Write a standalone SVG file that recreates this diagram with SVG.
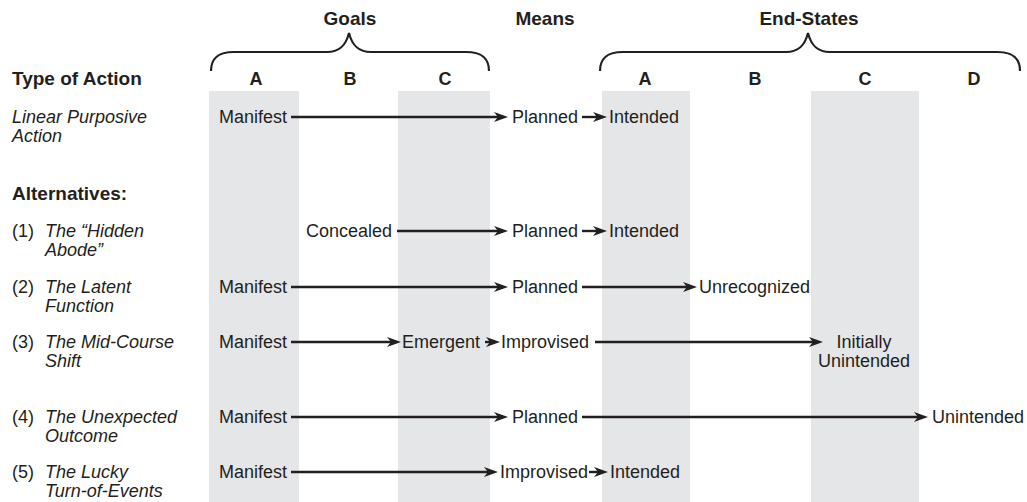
<svg xmlns="http://www.w3.org/2000/svg" width="1027" height="502" viewBox="0 0 1027 502">
<style>
  text { font-family: "Liberation Sans", Arial, sans-serif; fill: #231f20; }
  .hd { font-size: 19px; font-weight: bold; }
  .col { font-size: 18px; font-weight: bold; text-anchor: middle; }
  .lbl { font-size: 18px; }
  .it { font-size: 18px; font-style: italic; }
  .nd { font-size: 18px; }
  .band { fill: #e5e6e8; }
  .brace { fill: none; stroke: #231f20; stroke-width: 2.2; }
  .conn line { stroke: #231f20; stroke-width: 2.4; }
</style>
<defs>
  <marker id="ah" markerUnits="userSpaceOnUse" markerWidth="15" markerHeight="11" refX="8" refY="5" orient="auto">
    <path d="M0,0 L14,5 L0,10 L4,5 z" fill="#231f20"/>
  </marker>
</defs>
<rect width="1027" height="502" fill="#ffffff"/>

<g id="bands">
  <rect class="band" x="209" y="91" width="90" height="411"/>
  <rect class="band" x="398" y="91" width="92" height="411"/>
  <rect class="band" x="602" y="91" width="88" height="411"/>
  <rect class="band" x="811" y="91" width="108" height="411"/>
</g>

<g id="headers">
  <text class="hd" x="350" y="25" text-anchor="middle">Goals</text>
  <text class="hd" x="545" y="25" text-anchor="middle">Means</text>
  <text class="hd" x="809" y="25" text-anchor="middle">End-States</text>
  <path class="brace" d="M211,71 C211,60 216,52 234,52 L327,52 C340,52 346,45 349,33 C352,45 358,52 371,52 L466,52 C484,52 489,60 489,71"/>
  <path class="brace" d="M600,71 C600,60 605,52 623,52 L786,52 C799,52 805,45 808,33 C811,45 817,52 830,52 L997,52 C1015,52 1020,60 1020,71"/>
  <text class="hd" x="12" y="85">Type of Action</text>
  <text class="col" x="256" y="85">A</text>
  <text class="col" x="350" y="85">B</text>
  <text class="col" x="445" y="85">C</text>
  <text class="col" x="645" y="85">A</text>
  <text class="col" x="755" y="85">B</text>
  <text class="col" x="865" y="85">C</text>
  <text class="col" x="974" y="85">D</text>
</g>

<g id="row-labels">
  <text class="it" x="12" y="123">Linear Purposive</text>
  <text class="it" x="12" y="142">Action</text>
  <text class="hd" x="12" y="200">Alternatives:</text>
  <text class="lbl" x="12" y="237">(1)</text>
  <text class="it" x="45" y="237">The “Hidden</text>
  <text class="it" x="45" y="256">Abode”</text>
  <text class="lbl" x="12" y="293">(2)</text>
  <text class="it" x="45" y="293">The Latent</text>
  <text class="it" x="45" y="312">Function</text>
  <text class="lbl" x="12" y="348">(3)</text>
  <text class="it" x="45" y="348">The Mid-Course</text>
  <text class="it" x="45" y="367">Shift</text>
  <text class="lbl" x="12" y="423">(4)</text>
  <text class="it" x="45" y="423">The Unexpected</text>
  <text class="it" x="45" y="442">Outcome</text>
  <text class="lbl" x="12" y="478">(5)</text>
  <text class="it" x="45" y="478">The Lucky</text>
  <text class="it" x="45" y="497">Turn-of-Events</text>
</g>

<g id="n0-manifest"><text class="nd" x="219" y="123">Manifest</text></g>
<g id="n0-planned"><text class="nd" x="512" y="123">Planned</text></g>
<g id="n0-intended"><text class="nd" x="609" y="123">Intended</text></g>

<g id="n1-concealed"><text class="nd" x="306" y="237">Concealed</text></g>
<g id="n1-planned"><text class="nd" x="512" y="237">Planned</text></g>
<g id="n1-intended"><text class="nd" x="609" y="237">Intended</text></g>

<g id="n2-manifest"><text class="nd" x="219" y="293">Manifest</text></g>
<g id="n2-planned"><text class="nd" x="512" y="293">Planned</text></g>
<g id="n2-unrecognized"><text class="nd" x="699" y="293">Unrecognized</text></g>

<g id="n3-manifest"><text class="nd" x="219" y="348">Manifest</text></g>
<g id="n3-emergent"><text class="nd" x="402" y="348">Emergent</text></g>
<g id="n3-improvised"><text class="nd" x="501" y="348">Improvised</text></g>
<g id="n3-initially-unintended">
  <text class="nd" x="864" y="348" text-anchor="middle">Initially</text>
  <text class="nd" x="864" y="367" text-anchor="middle">Unintended</text>
</g>

<g id="n4-manifest"><text class="nd" x="219" y="423">Manifest</text></g>
<g id="n4-planned"><text class="nd" x="512" y="423">Planned</text></g>
<g id="n4-unintended"><text class="nd" x="932" y="423">Unintended</text></g>

<g id="n5-manifest"><text class="nd" x="219" y="478">Manifest</text></g>
<g id="n5-improvised"><text class="nd" x="500" y="478">Improvised</text></g>
<g id="n5-intended"><text class="nd" x="610" y="478">Intended</text></g>

<g id="connectors" class="conn">
  <line x1="291" y1="117" x2="502" y2="117" marker-end="url(#ah)"/>
  <line x1="582" y1="117" x2="601" y2="117" marker-end="url(#ah)"/>

  <line x1="397" y1="231" x2="502" y2="231" marker-end="url(#ah)"/>
  <line x1="582" y1="231" x2="601" y2="231" marker-end="url(#ah)"/>

  <line x1="291" y1="287" x2="502" y2="287" marker-end="url(#ah)"/>
  <line x1="582" y1="287" x2="691" y2="287" marker-end="url(#ah)"/>

  <line x1="291" y1="342" x2="395" y2="342" marker-end="url(#ah)"/>
  <line x1="485" y1="342" x2="494" y2="342" marker-end="url(#ah)"/>
  <line x1="595" y1="342" x2="817" y2="342" marker-end="url(#ah)"/>

  <line x1="291" y1="417" x2="502" y2="417" marker-end="url(#ah)"/>
  <line x1="582" y1="417" x2="922" y2="417" marker-end="url(#ah)"/>

  <line x1="291" y1="472" x2="492" y2="472" marker-end="url(#ah)"/>
  <line x1="589" y1="472" x2="602" y2="472" marker-end="url(#ah)"/>
</g>
</svg>
